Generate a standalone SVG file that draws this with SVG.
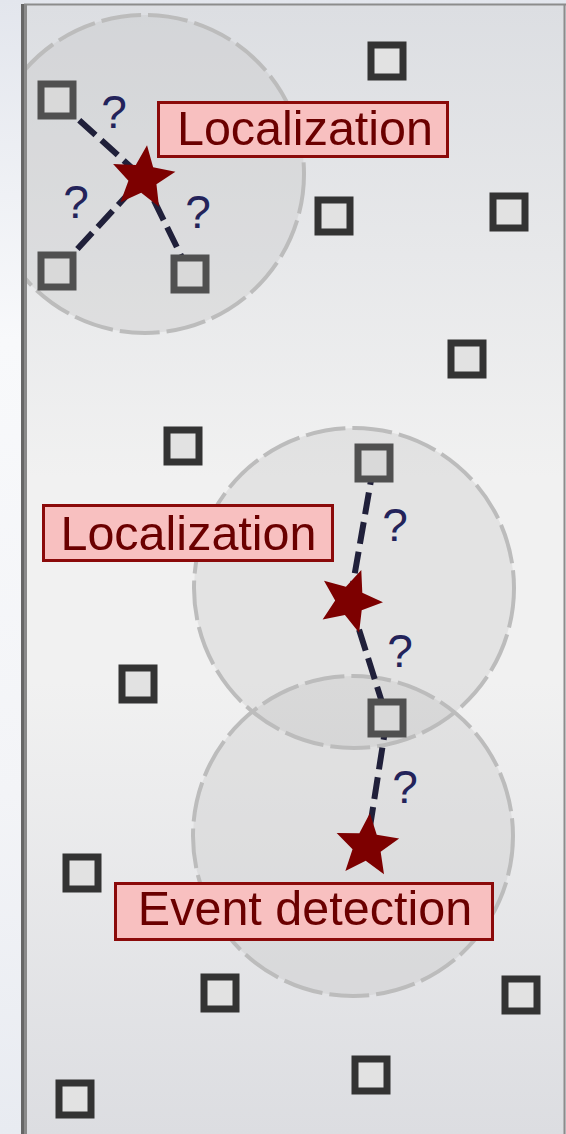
<svg xmlns="http://www.w3.org/2000/svg" width="566" height="1134" viewBox="0 0 566 1134">
  <defs>
    <linearGradient id="outerBg" x1="0" y1="0" x2="0" y2="1">
      <stop offset="0" stop-color="#e3e6ed"/>
      <stop offset="0.3" stop-color="#f8f9fb"/>
      <stop offset="0.7" stop-color="#f3f4f7"/>
      <stop offset="1" stop-color="#e8ebf1"/>
    </linearGradient>
    <linearGradient id="panelBg" x1="0" y1="0" x2="0" y2="1">
      <stop offset="0" stop-color="#dcdee2"/>
      <stop offset="0.42" stop-color="#f1f1f1"/>
      <stop offset="0.6" stop-color="#f1f1f1"/>
      <stop offset="1" stop-color="#dcdde1"/>
    </linearGradient>
    <clipPath id="panelClip">
      <rect x="24" y="4" width="542" height="1130"/>
    </clipPath>
    <polygon id="star" points="0,-33 8.73,-12.02 31.38,-10.2 14.12,4.59 19.4,26.7 0,14.85 -19.4,26.7 -14.12,4.59 -31.38,-10.2 -8.73,-12.02"/>
    <style>
      .range { fill: #bdbdbd; fill-opacity: 0.28; stroke: #bcbcbc; stroke-width: 4; stroke-dasharray: 40 7; }
      .sensor { fill: #e2e2e2; stroke: #333333; stroke-width: 7; }
      .sensor.dim { fill: #d9d9d9; stroke: #505050; }
      .link { stroke: #20203a; stroke-width: 6; stroke-dasharray: 22 8; fill: none; }
      .event { fill: #7d0000; }
      .tag rect { fill: #f8c0c0; stroke: #8b0a0a; stroke-width: 3; }
      .tag text { font-family: "Liberation Sans", Arial, sans-serif; font-size: 48.5px; fill: #6b0000; text-anchor: middle; }
      .q { font-family: "Liberation Sans", Arial, sans-serif; font-size: 46px; fill: #23235a; text-anchor: middle; }
    </style>
  </defs>

  <!-- page and panel -->
  <rect x="0" y="0" width="566" height="1134" fill="url(#outerBg)"/>
  <rect x="24" y="4" width="542" height="1130" fill="url(#panelBg)"/>

  <!-- sensing ranges -->
  <g id="ranges" clip-path="url(#panelClip)">
    <circle class="range" cx="145" cy="174" r="159"/>
    <circle class="range" cx="354" cy="588" r="160"/>
    <circle class="range" cx="353" cy="836" r="160"/>
  </g>

  <!-- panel frame -->
  <line x1="24" y1="4.5" x2="566" y2="4.5" stroke="#8c8c8c" stroke-width="2"/>
  <line x1="564.5" y1="4" x2="564.5" y2="1134" stroke="#8c8c8c" stroke-width="2"/>
  <rect x="21" y="4" width="3" height="1130" fill="#666666"/>
  <rect x="24" y="4" width="3" height="1130" fill="#8a8a8a"/>

  <!-- connectors -->
  <g id="connectors">
    <line class="link" x1="57" y1="100" x2="143" y2="178"/>
    <line class="link" x1="57" y1="271" x2="143" y2="178"/>
    <line class="link" x1="190" y1="274" x2="143" y2="178"/>
    <line class="link" x1="374" y1="463" x2="350" y2="601"/>
    <line class="link" x1="350" y1="601" x2="387" y2="718"/>
    <line class="link" x1="387" y1="718" x2="367" y2="846"/>
  </g>

  <!-- sensor nodes -->
  <g id="s1"><rect class="sensor dim" x="41" y="84" width="32" height="32"/></g>
  <g id="s2"><rect class="sensor dim" x="41" y="255" width="32" height="32"/></g>
  <g id="s3"><rect class="sensor dim" x="174" y="258" width="32" height="32"/></g>
  <g id="s4"><rect class="sensor" x="371" y="45" width="32" height="32"/></g>
  <g id="s5"><rect class="sensor" x="318" y="200" width="32" height="32"/></g>
  <g id="s6"><rect class="sensor" x="493" y="196" width="32" height="32"/></g>
  <g id="s7"><rect class="sensor" x="451" y="343" width="32" height="32"/></g>
  <g id="s8"><rect class="sensor" x="167" y="430" width="32" height="32"/></g>
  <g id="s9"><rect class="sensor dim" x="358" y="447" width="32" height="32"/></g>
  <g id="s10"><rect class="sensor" x="122" y="668" width="32" height="32"/></g>
  <g id="s11"><rect class="sensor dim" x="371" y="702" width="32" height="32"/></g>
  <g id="s12"><rect class="sensor" x="66" y="857" width="32" height="32"/></g>
  <g id="s13"><rect class="sensor" x="204" y="977" width="32" height="32"/></g>
  <g id="s14"><rect class="sensor" x="505" y="979" width="32" height="32"/></g>
  <g id="s15"><rect class="sensor" x="355" y="1059" width="32" height="32"/></g>
  <g id="s16"><rect class="sensor" x="59" y="1083" width="32" height="32"/></g>

  <!-- events -->
  <g id="event1"><use href="#star" class="event" transform="translate(143 178) rotate(7)"/></g>
  <g id="event2"><use href="#star" class="event" transform="translate(350 601) rotate(20)"/></g>
  <g id="event3"><use href="#star" class="event" transform="translate(367 846) rotate(5)"/></g>

  <!-- unknown distances -->
  <g id="unknowns">
    <text class="q" x="114" y="128">?</text>
    <text class="q" x="76" y="218">?</text>
    <text class="q" x="198" y="228">?</text>
    <text class="q" x="395" y="541">?</text>
    <text class="q" x="400" y="667">?</text>
    <text class="q" x="405" y="803">?</text>
  </g>

  <!-- labels -->
  <g id="label-localization-1" class="tag">
    <rect x="158.5" y="102.5" width="289" height="54"/>
    <text x="305" y="145">Localization</text>
  </g>
  <g id="label-localization-2" class="tag">
    <rect x="43.5" y="505.5" width="289" height="55"/>
    <text x="188.5" y="550">Localization</text>
  </g>
  <g id="label-event-detection" class="tag">
    <rect x="115.5" y="883.5" width="377" height="56"/>
    <text x="305" y="925">Event detection</text>
  </g>
</svg>
